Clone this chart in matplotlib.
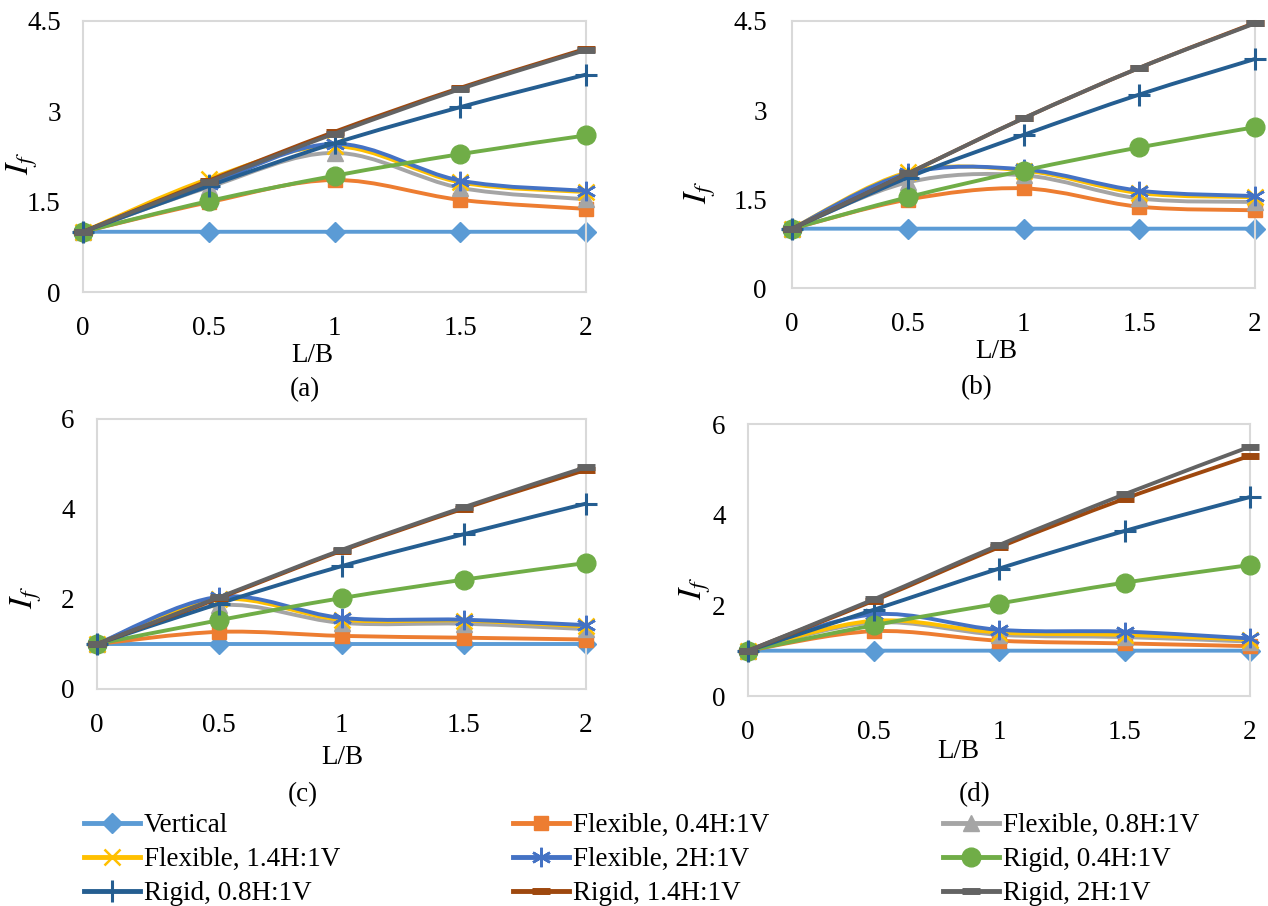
import matplotlib
matplotlib.use('Agg')
import matplotlib.pyplot as plt
from matplotlib.path import Path
from matplotlib.patches import PathPatch
from matplotlib.lines import Line2D

plt.rcParams['font.family'] = ['Liberation Serif', 'DejaVu Serif']
plt.rcParams['mathtext.fontset'] = 'stix'

# ---------------- data ----------------
lb = [0, 0.5, 1, 1.5, 2]
x_tick_labels = ['0', '0.5', '1', '1.5', '2']

series_names = ['Vertical', 'Flexible, 0.4H:1V', 'Flexible, 0.8H:1V',
                'Flexible, 1.4H:1V', 'Flexible, 2H:1V', 'Rigid, 0.4H:1V',
                'Rigid, 0.8H:1V', 'Rigid, 1.4H:1V', 'Rigid, 2H:1V']

# panel (a)
a_vertical = [1, 1, 1, 1, 1]
a_flex04 = [1, 1.49, 1.86, 1.53, 1.38]
a_flex08 = [1, 1.74, 2.31, 1.73, 1.54]
a_flex14 = [1, 1.88, 2.42, 1.82, 1.66]
a_flex2 = [1, 1.79, 2.46, 1.85, 1.68]
a_rig04 = [1, 1.51, 1.93, 2.29, 2.60]
a_rig08 = [1, 1.76, 2.47, 3.07, 3.61]
a_rig14 = [1, 1.85, 2.66, 3.39, 4.04]
a_rig2 = [1, 1.83, 2.63, 3.37, 4.02]

# panel (b)
b_vertical = [1, 1, 1, 1, 1]
b_flex04 = [1, 1.49, 1.68, 1.37, 1.31]
b_flex08 = [1, 1.78, 1.90, 1.51, 1.45]
b_flex14 = [1, 1.95, 1.98, 1.60, 1.53]
b_flex2 = [1, 1.93, 2.00, 1.64, 1.55]
b_rig04 = [1, 1.53, 1.98, 2.37, 2.71]
b_rig08 = [1, 1.86, 2.58, 3.26, 3.86]
b_rig14 = [1, 1.93, 2.86, 3.71, 4.47]
b_rig2 = [1, 1.93, 2.86, 3.71, 4.46]

# panel (c)
c_vertical = [1, 1, 1, 1, 1]
c_flex04 = [1, 1.27, 1.18, 1.14, 1.10]
c_flex08 = [1, 1.86, 1.47, 1.45, 1.33]
c_flex14 = [1, 1.99, 1.54, 1.52, 1.39]
c_flex2 = [1, 2.05, 1.58, 1.54, 1.42]
c_rig04 = [1, 1.53, 2.02, 2.43, 2.80]
c_rig08 = [1, 1.90, 2.73, 3.44, 4.12]
c_rig14 = [1, 2.02, 3.07, 4.01, 4.87]
c_rig2 = [1, 2.04, 3.09, 4.04, 4.93]

# panel (d)
d_vertical = [1, 1, 1, 1, 1]
d_flex04 = [1, 1.43, 1.22, 1.16, 1.10]
d_flex08 = [1, 1.62, 1.35, 1.30, 1.20]
d_flex14 = [1, 1.66, 1.40, 1.35, 1.24]
d_flex2 = [1, 1.80, 1.46, 1.42, 1.27]
d_rig04 = [1, 1.56, 2.04, 2.50, 2.89]
d_rig08 = [1, 1.90, 2.81, 3.64, 4.39]
d_rig14 = [1, 2.10, 3.28, 4.35, 5.30]
d_rig2 = [1, 2.13, 3.33, 4.45, 5.50]

a_yticks = [0, 1.5, 3, 4.5]
a_yticklabels = ['0', '1.5', '3', '4.5']
c_yticks = [0, 2, 4, 6]
c_yticklabels = ['0', '2', '4', '6']
panel_letters = ['(a)', '(b)', '(c)', '(d)']

# ---------------- styles ----------------
colors = ['#5B9BD5', '#ED7D31', '#A5A5A5', '#FFC000', '#4472C4',
          '#70AD47', '#255E91', '#9E480E', '#636363']
markers = ['D', 's', '^', 'x', (6, 2, 0), 'o', '+', '_', '_']
msizes = [10, 10.5, 11, 12, 14, 13.5, 16, 13, 13]
mews = [1, 1, 1, 1.8, 1.8, 1, 2.2, 5, 5]
LW = 2.8

W, H = 1268, 906
fig = plt.figure(figsize=(W / 100, H / 100), dpi=100)


def fr(l, t, r, b):
    return [l / W, 1 - b / H, (r - l) / W, (b - t) / H]


def smooth_path(xs, ys):
    verts = [(xs[0], ys[0])]
    codes = [Path.MOVETO]
    n = len(xs)
    for i in range(n - 1):
        p0 = i - 1 if i > 0 else i
        p3 = i + 2 if i + 2 < n else i + 1
        c1 = (xs[i] + (xs[i + 1] - xs[p0]) / 6, ys[i] + (ys[i + 1] - ys[p0]) / 6)
        c2 = (xs[i + 1] - (xs[p3] - xs[i]) / 6, ys[i + 1] - (ys[p3] - ys[i]) / 6)
        verts += [c1, c2, (xs[i + 1], ys[i + 1])]
        codes += [Path.CURVE4] * 3
    return Path(verts, codes)


panels = [
    dict(rect=(83, 21, 586, 292), data=[a_vertical, a_flex04, a_flex08, a_flex14, a_flex2, a_rig04, a_rig08, a_rig14, a_rig2],
         ylim=4.5, yt=a_yticks, ytl=a_yticklabels, ylab=(22, 163), xlab=(312, 355), let=(305, 390), ypad=16, xpad=17),
    dict(rect=(792, 21, 1255, 288), data=[b_vertical, b_flex04, b_flex08, b_flex14, b_flex2, b_rig04, b_rig08, b_rig14, b_rig2],
         ylim=4.5, yt=a_yticks, ytl=a_yticklabels, ylab=(700, 192), xlab=(996, 352), let=(977, 388), ypad=18, xpad=17),
    dict(rect=(97, 419, 586, 689), data=[c_vertical, c_flex04, c_flex08, c_flex14, c_flex2, c_rig04, c_rig08, c_rig14, c_rig2],
         ylim=6, yt=c_yticks, ytl=c_yticklabels, ylab=(26, 597), xlab=(342, 757), let=(303, 795), ypad=16, xpad=17),
    dict(rect=(748, 424, 1250, 696), data=[d_vertical, d_flex04, d_flex08, d_flex14, d_flex2, d_rig04, d_rig08, d_rig14, d_rig2],
         ylim=6, yt=c_yticks, ytl=c_yticklabels, ylab=(695, 588), xlab=(958, 751), let=(975, 795), ypad=16, xpad=17),
]

FS = 19.5
for k, p in enumerate(panels):
    ax = fig.add_axes(fr(*p['rect']))
    for i, ys in enumerate(p['data']):
        patch = PathPatch(smooth_path(lb, ys), facecolor='none', edgecolor=colors[i],
                          lw=LW, capstyle='round', joinstyle='round', zorder=2 + i, clip_on=False)
        ax.add_patch(patch)
        ax.plot(lb, ys, linestyle='none', marker=markers[i], ms=msizes[i],
                mew=mews[i], color=colors[i], mec=colors[i], mfc=colors[i],
                zorder=2.5 + i, clip_on=False)
    ax.set_xlim(0, 2)
    ax.set_ylim(0, p['ylim'])
    ax.set_xticks(lb)
    ax.set_xticklabels(x_tick_labels)
    ax.set_yticks(p['yt'])
    ax.set_yticklabels(p['ytl'])
    ax.tick_params(axis='both', length=0, labelsize=FS)
    ax.tick_params(axis='x', pad=p['xpad'])
    ax.tick_params(axis='y', pad=p['ypad'])
    for s in ax.spines.values():
        s.set_color('#D9D9D9')
        s.set_linewidth(1.5)
    ax.set_facecolor('none')
    fig.text(p['ylab'][0] / W, 1 - p['ylab'][1] / H, r'$\mathit{I}_{f}$', rotation=90,
             ha='center', va='center', fontsize=24)
    fig.text(p['xlab'][0] / W, 1 - p['xlab'][1] / H, 'L/B', ha='center', va='center', fontsize=FS)
    fig.text(p['let'][0] / W, 1 - p['let'][1] / H, panel_letters[k], ha='center', va='center', fontsize=FS)

# ---------------- legend ----------------
handles = [Line2D([], [], color=colors[i], lw=3.5, marker=markers[i], ms=msizes[i],
                  mew=mews[i], mec=colors[i], mfc=colors[i]) for i in range(9)]
cols = [[0, 3, 6], [1, 4, 7], [2, 5, 8]]
col_x = [84, 513, 943]
for cx, idx in zip(col_x, cols):
    fig.legend([handles[i] for i in idx], [series_names[i] for i in idx],
               loc='upper left', bbox_to_anchor=(cx / W, 1 - 813 / H),
               frameon=False, fontsize=FS, handlelength=2.05, handletextpad=0.15,
               labelspacing=0.34, borderpad=0, borderaxespad=0, numpoints=1)

fig.savefig('out.png', dpi=100)
